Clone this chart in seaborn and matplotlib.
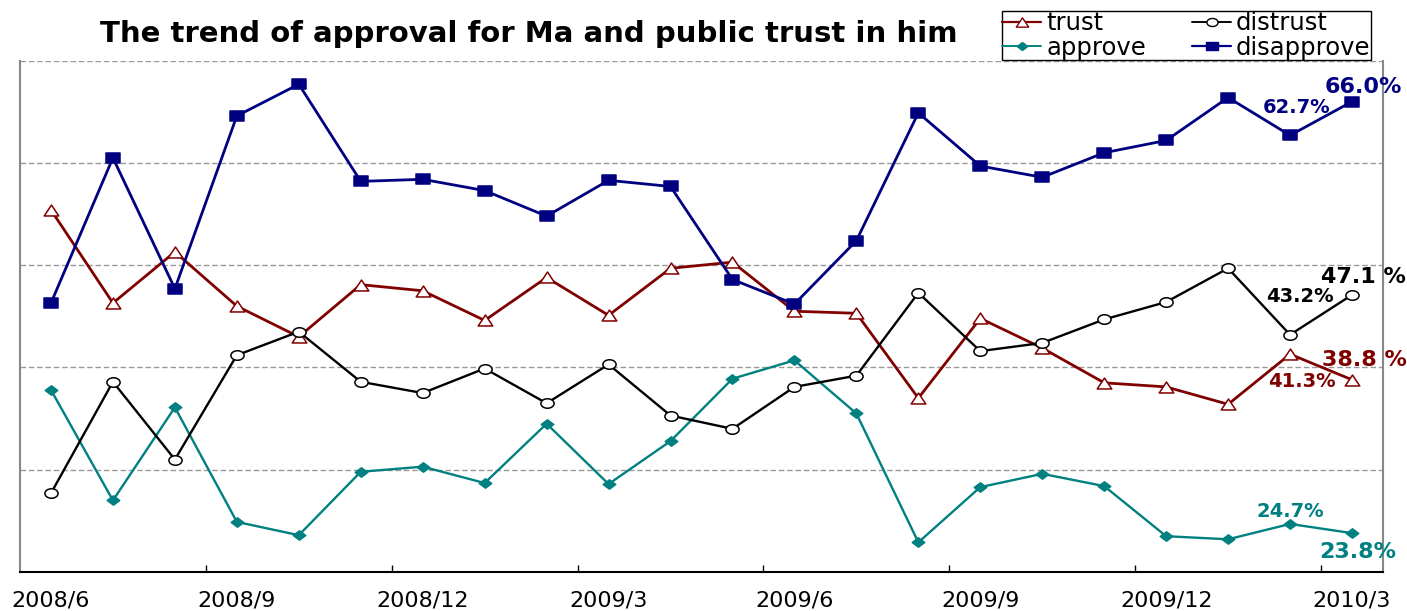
import numpy as np
import pandas as pd
import matplotlib
matplotlib.use("Agg")
import matplotlib.pyplot as plt
from matplotlib.path import Path
from matplotlib.lines import Line2D
import seaborn as sns

# ---------------- data ----------------
months = ["2008/6", "2008/7", "2008/8", "2008/9", "2008/10", "2008/11",
          "2008/12", "2009/1", "2009/2", "2009/3", "2009/4", "2009/5",
          "2009/6", "2009/7", "2009/8", "2009/9", "2009/10", "2009/11",
          "2009/12", "2010/1", "2010/2", "2010/3"]
trust = [55.4, 46.3, 51.3, 46.0, 43.0, 48.1, 47.5, 44.6, 48.8, 45.1, 49.7,
         50.3, 45.5, 45.3, 37.0, 44.8, 41.9, 38.5, 38.1, 36.4, 41.3, 38.8]
distrust = [27.7, 38.6, 31.0, 41.2, 43.5, 38.6, 37.5, 39.9, 36.5, 40.3, 35.3,
            34.0, 38.1, 39.2, 47.3, 41.6, 42.4, 44.7, 46.4, 49.7, 43.2, 47.1]
approve = [37.8, 27.0, 36.1, 24.9, 23.6, 29.8, 30.3, 28.7, 34.5, 28.6, 32.8,
           38.9, 40.7, 35.5, 22.9, 28.3, 29.6, 28.4, 23.5, 23.2, 24.7, 23.8]
disapprove = [46.3, 60.5, 47.7, 64.6, 67.7, 58.2, 58.4, 57.3, 54.8, 58.3, 57.7,
              48.6, 46.2, 52.4, 64.9, 59.7, 58.6, 61.0, 62.2, 66.4, 62.7, 66.0]
series_names = ["trust", "distrust", "approve", "disapprove"]
title_text = "The trend of approval for Ma and public trust in him"
# labels: (series, month index, text)
value_labels = [("disapprove", 21, "66.0%"), ("disapprove", 20, "62.7%"),
                ("distrust", 21, "47.1 %"), ("distrust", 20, "43.2%"),
                ("trust", 21, "38.8 %"), ("trust", 20, "41.3%"),
                ("approve", 20, "24.7%"), ("approve", 21, "23.8%")]

df = pd.DataFrame({"idx": np.arange(len(months)), "month": months,
                   "trust": trust, "distrust": distrust,
                   "approve": approve, "disapprove": disapprove})

# ---------------- style ----------------
sns.set_theme(style="white")
plt.rcParams["font.family"] = ["DejaVu Sans"]
plt.rcParams["text.color"] = "black"
plt.rcParams["xtick.color"] = "black"
plt.rcParams["xtick.labelcolor"] = "black"
plt.rcParams["legend.labelcolor"] = "black"

W, H = 1407, 611
fig = plt.figure(figsize=(W / 100, H / 100), dpi=100)
ax = fig.add_axes([20 / W, 39 / H, 1363 / W, 511.3 / H])

tri = Path([(-1, -0.75), (1, -0.75), (0, 0.75), (-1, -0.75)],
           [Path.MOVETO, Path.LINETO, Path.LINETO, Path.CLOSEPOLY])
circ = Path(Path.unit_circle().vertices * np.array([1.0, 0.72]),
            Path.unit_circle().codes)
diam = Path([(0, 0.75), (1, 0), (0, -0.75), (-1, 0), (0, 0.75)],
            [Path.MOVETO, Path.LINETO, Path.LINETO, Path.LINETO, Path.CLOSEPOLY])
sq = Path([(-1, -0.77), (1, -0.77), (1, 0.77), (-1, 0.77), (-1, -0.77)],
          [Path.MOVETO, Path.LINETO, Path.LINETO, Path.LINETO, Path.CLOSEPOLY])

styles = {
    "trust": dict(color="#800000", marker=tri, mfc="white", ms=10.5, lw=2.0, z=3),
    "approve": dict(color="#008080", marker=diam, mfc="#008080", ms=9.0, lw=1.7, z=4),
    "distrust": dict(color="#000000", marker=circ, mfc="white", ms=9.5, lw=1.7, z=5),
    "disapprove": dict(color="#000080", marker=sq, mfc="#000080", ms=9.5, lw=2.0, z=6),
}

for name in ["trust", "approve", "distrust", "disapprove"]:
    s = styles[name]
    sns.lineplot(data=df, x="idx", y=name, ax=ax, sort=False,
                 color=s["color"], linewidth=s["lw"], marker=s["marker"],
                 markersize=s["ms"], markerfacecolor=s["mfc"],
                 markeredgecolor=s["color"], markeredgewidth=1.1,
                 zorder=s["z"], legend=False)

# axes / grid
ax.set_xlim(-0.5, len(months) - 0.5)
ax.set_ylim(20, 70)
ax.set_yticks([30, 40, 50, 60, 70])
ax.set_yticklabels([])
ax.yaxis.grid(True, color="#999999", linestyle=(0, (4, 2)), linewidth=1.0)
ax.xaxis.grid(False)
ax.tick_params(axis="y", length=0)

major = list(range(0, len(months), 3))
ax.set_xticks(major)
ax.set_xticklabels([months[i] for i in major], fontsize=16, color="black")
ax.set_xticks([i + 2.5 for i in range(0, len(months) - 3, 3)], minor=True)
ax.tick_params(axis="x", which="major", length=0, pad=13, labelcolor="black")
ax.tick_params(axis="x", which="minor", direction="in", length=5,
               width=1.0, color="black", bottom=True)
ax.set_xlabel("")
ax.set_ylabel("")

for sp in ["left", "right"]:
    ax.spines[sp].set_color("#888888")
    ax.spines[sp].set_linewidth(1.5)
ax.spines["top"].set_visible(False)
ax.spines["bottom"].set_color("black")
ax.spines["bottom"].set_linewidth(1.5)

# value labels
offsets = {("disapprove", 21): (11, 15, 16), ("disapprove", 20): (6, 28, 14),
           ("distrust", 21): (11, 18, 16), ("distrust", 20): (10, 38, 14),
           ("trust", 21): (12, 20, 16), ("trust", 20): (12, -27, 14),
           ("approve", 20): (0, 12, 14), ("approve", 21): (6, -19, 16)}
for name, i, txt in value_labels:
    dx, dy, fs = offsets[(name, i)]
    ax.annotate(txt, xy=(i, df[name][i]), xytext=(dx, dy),
                textcoords="offset pixels", ha="center", va="center",
                fontsize=fs, fontweight="bold", color=styles[name]["color"],
                zorder=10, annotation_clip=False)

# title
fig.text(529 / W, 1 - 34 / H, title_text, ha="center", va="center",
         fontsize=21, fontweight="bold", color="black")

# legend
handles = []
for name in ["trust", "approve", "distrust", "disapprove"]:
    s = styles[name]
    handles.append(Line2D([], [], color=s["color"], lw=s["lw"] * 0.8,
                          marker=s["marker"], markersize=s["ms"] * 0.85,
                          markerfacecolor=s["mfc"], markeredgecolor=s["color"],
                          markeredgewidth=1.0, label=name))
leg = fig.legend(handles=handles, ncol=2, loc="upper left",
                 bbox_to_anchor=(1002 / W, 1 - 11 / H),
                 bbox_transform=fig.transFigure, borderaxespad=0,
                 fontsize=17.5, frameon=True, fancybox=False, shadow=False,
                 borderpad=0.02, labelspacing=0.02, handlelength=1.6,
                 handletextpad=0.2, columnspacing=1.9)
leg.get_frame().set_edgecolor("black")
leg.get_frame().set_linewidth(1.0)
leg.get_frame().set_facecolor("white")
leg.get_frame().set_alpha(1.0)
for t in leg.get_texts():
    t.set_color("black")

fig.savefig("out.png", dpi=100)
